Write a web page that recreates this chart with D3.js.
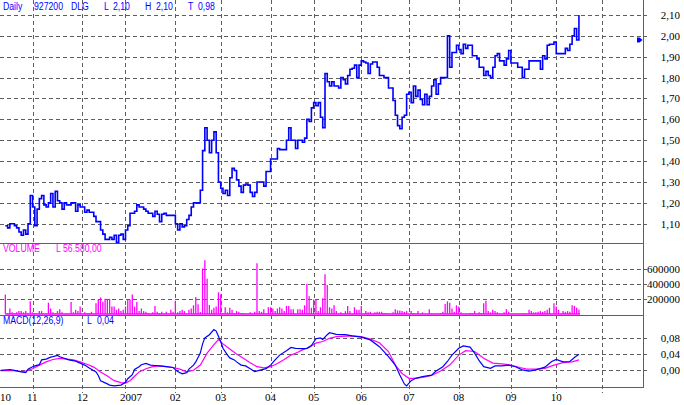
<!DOCTYPE html>
<html><head><meta charset="utf-8">
<script src="https://cdn.jsdelivr.net/npm/d3@7"></script>
<style>body{margin:0;background:#fff}svg{display:block}</style>
</head><body><svg id="c" width="684" height="405"></svg>
<script>
// ---- data ----
const firstDay = 2; // trading-day index of first close
const closes = [
 1.09,1.08,1.10,1.10,1.09,1.08,1.06,1.045,1.07,1.05,
 1.10,1.235,1.18,1.09,1.17,1.22,1.235,1.19,1.18,1.20,
 1.245,1.18,1.255,1.21,1.20,1.17,1.20,1.19,1.19,1.20,
 1.20,1.16,1.19,1.18,1.18,1.155,1.165,1.155,1.155,1.135,
 1.11,1.11,1.07,1.05,1.025,1.025,1.035,1.025,1.045,1.01,
 1.045,1.05,1.025,1.07,1.09,1.15,1.15,1.16,1.19,1.18,
 1.18,1.17,1.16,1.15,1.15,1.135,1.16,1.145,1.11,1.145,
 1.15,1.14,1.14,1.14,1.14,1.10,1.07,1.10,1.085,1.09,
 1.12,1.14,1.18,1.20,1.20,1.20,1.26,1.45,1.56,1.50,
 1.44,1.50,1.54,1.44,1.30,1.27,1.245,1.26,1.235,1.32,
 1.365,1.355,1.31,1.28,1.25,1.285,1.29,1.285,1.25,1.23,
 1.25,1.30,1.30,1.30,1.28,1.35,1.35,1.41,1.41,1.41,
 1.46,1.455,1.455,1.455,1.50,1.56,1.50,1.50,1.46,1.50,
 1.50,1.49,1.51,1.60,1.59,1.655,1.68,1.665,1.68,1.61,
 1.56,1.82,1.78,1.76,1.78,1.76,1.76,1.75,1.80,1.79,
 1.77,1.81,1.84,1.845,1.86,1.80,1.86,1.88,1.875,1.87,
 1.82,1.865,1.875,1.875,1.85,1.81,1.81,1.80,1.80,1.75,
 1.75,1.69,1.62,1.57,1.555,1.61,1.62,1.72,1.73,1.68,
 1.76,1.71,1.74,1.695,1.67,1.72,1.67,1.71,1.76,1.79,
 1.72,1.77,1.80,1.80,1.80,2.00,1.85,1.92,1.92,1.955,
 1.935,1.915,1.96,1.94,1.955,1.955,1.905,1.905,1.89,1.85,
 1.85,1.81,1.83,1.81,1.80,1.85,1.905,1.915,1.88,1.88,
 1.86,1.89,1.93,1.87,1.87,1.87,1.85,1.85,1.80,1.84,
 1.84,1.88,1.88,1.88,1.88,1.88,1.84,1.905,1.89,1.955,
 1.96,1.96,1.97,1.915,1.915,1.915,1.915,1.94,1.93,1.96,
 2.00,2.035,1.98,2.10
];
// volume in thousands of shares
const volumes = [
 261,8,74,22,8,22,39,39,22,39,
 8,170,22,13,5,39,39,5,5,152,
 74,22,5,39,65,22,5,5,5,161,
 22,56,39,100,5,22,13,13,30,5,
 143,196,222,165,204,204,204,100,100,56,
 74,39,56,100,187,196,261,100,161,39,
 74,39,30,13,5,22,109,30,13,30,
 5,30,5,56,30,178,22,39,56,39,
 5,56,74,117,230,130,26,613,722,474,
 122,56,83,100,291,265,13,91,22,83,
 56,13,39,30,13,13,5,5,22,5,
 30,683,39,30,65,5,91,91,74,39,
 74,91,74,39,109,109,65,65,5,65,
 65,56,117,404,239,83,196,196,39,91,
 213,535,391,91,74,117,39,5,22,5,
 39,109,39,5,91,56,56,109,5,39,
 22,30,5,22,30,30,30,13,13,5,
 5,22,65,48,48,39,30,39,5,39,
 13,5,39,5,22,5,5,65,5,5,
 5,5,13,30,135,170,152,74,30,117,
 100,22,5,5,5,13,13,39,5,22,
 13,143,178,39,22,56,39,22,5,5,
 22,65,30,5,5,5,5,5,5,13,
 5,56,39,22,22,30,39,30,39,56,
 83,5,143,100,56,5,39,30,39,30,
 117,109,83,56.58
];
const macdDays = [0,4,6,9,11,12,14,15,17,18,20,22,23,25,26,28,30,33,35,37,39,42,43,44,47,48,50,53,55,56,58,59,61,62,64,66,68,70,73,76,78,80,82,83,85,86,88,89,90,92,94,95,96,97,98,100,101,103,104,106,108,110,112,114,117,119,121,123,126,128,130,133,135,137,139,141,142,144,145,148,152,155,159,163,167,171,174,176,178,179,181,183,186,190,192,195,197,199,202,204,207,209,211,213,216,218,221,224,227,230,233,236,240,243,245,248,251,253,255];
const macdVals = [0.000,0.002,0.000,-0.004,-0.006,0.003,0.009,0.011,0.014,0.026,0.028,0.033,0.034,0.037,0.034,0.030,0.026,0.023,0.018,0.013,0.006,-0.004,-0.013,-0.026,-0.034,-0.037,-0.039,-0.037,-0.030,-0.021,-0.011,0.002,0.009,0.014,0.017,0.013,0.012,0.011,0.009,0.007,-0.003,-0.009,-0.006,0.003,0.013,0.021,0.043,0.066,0.081,0.089,0.102,0.098,0.085,0.072,0.055,0.038,0.031,0.026,0.021,0.013,0.011,0.004,-0.003,0.000,0.004,0.013,0.026,0.038,0.049,0.057,0.055,0.054,0.055,0.062,0.079,0.081,0.077,0.089,0.094,0.090,0.089,0.086,0.083,0.076,0.059,0.034,0.013,-0.012,-0.034,-0.039,-0.026,-0.020,-0.016,-0.012,-0.002,0.009,0.022,0.038,0.055,0.061,0.058,0.043,0.024,0.009,0.005,0.011,0.011,0.013,0.009,0.001,-0.002,0.001,0.008,0.022,0.027,0.021,0.022,0.032,0.040];
const signalDays = [0,6,9,11,14,17,20,23,26,29,32,35,38,41,44,47,50,53,55,57,59,61,64,67,70,73,76,79,82,85,88,91,94,96,98,101,104,107,110,113,116,119,122,125,128,131,133,136,139,142,145,148,154,159,163,167,171,174,177,180,182,186,190,194,198,202,205,209,213,217,221,225,229,232,236,240,244,248,252,255];
const signalVals = [-0.001,-0.001,-0.003,-0.002,0.004,0.013,0.021,0.027,0.030,0.028,0.026,0.021,0.015,0.008,-0.004,-0.014,-0.026,-0.031,-0.032,-0.026,-0.015,-0.004,0.004,0.009,0.011,0.009,0.007,0.003,-0.004,0.000,0.013,0.043,0.064,0.077,0.066,0.053,0.041,0.030,0.019,0.009,0.006,0.009,0.017,0.027,0.038,0.045,0.051,0.057,0.068,0.072,0.080,0.084,0.086,0.084,0.078,0.069,0.047,0.013,-0.008,-0.020,-0.020,-0.018,-0.013,-0.002,0.013,0.038,0.049,0.047,0.030,0.018,0.016,0.013,0.007,0.003,0.003,0.005,0.013,0.019,0.021,0.026];
const monthStarts = [14,36,55,77,97,119,138,159,180,202,225,245,265];
const labelDays = [2,14,36,55,77,97,119,138,159,180,202,225,245];
const labelTexts = ["10","11","12","2007","02","03","04","05","06","07","08","09","10"];
const priceTicks = [1.10,1.20,1.30,1.40,1.50,1.60,1.70,1.80,1.90,2.00,2.10];
const volumeTicks = [200000,400000,600000];
const macdTicks = [0,0.04,0.08];
const markerPrice = 1.98;
const headerTexts = ["Daily","927200","DLG","L","2,10","H","2,10","T","0,98"];
const volumeHeader = ["VOLUME","L","56.580,00"];
const macdHeader = ["MACD(12,26,9)","L","0,04"];

// ---- drawing ----
const svg = d3.select("#c");
const W = 643, GRID = "#5f5f5f", BLUE = "#0000ff", MAG = "#ff00ff";
const x = d3.scaleLinear().domain([0, 283]).range([0.8, 642.4]);
const yP = d3.scaleLinear().domain([1.10, 2.10]).range([223.7, 15]);
const yV = d3.scaleLinear().domain([0, 600000]).range([314, 269.4]);
const yM = d3.scaleLinear().domain([0, 0.08]).range([370.3, 338.3]);
const px = v => Math.round(v) + 0.5;

const grid = svg.append("g").attr("stroke", GRID).attr("stroke-width", 1)
  .attr("stroke-dasharray", "4,3").attr("shape-rendering", "crispEdges");
function hgrid(vals, sc) {
  grid.selectAll(null).data(vals).enter().append("line")
    .attr("x1", 0).attr("x2", 647).attr("y1", d => px(sc(d))).attr("y2", d => px(sc(d)));
}
hgrid(priceTicks, yP); hgrid(volumeTicks, yV); hgrid(macdTicks, yM);
grid.selectAll(null).data(monthStarts).enter().append("line")
  .attr("x1", d => px(x(d))).attr("x2", d => px(x(d))).attr("y1", 0).attr("y2", 393);

// borders
const bord = svg.append("g").attr("stroke", "#606060").attr("stroke-width", 1).attr("shape-rendering", "crispEdges");
[243, 315, 387].forEach(y => bord.append("line").attr("x1", 0).attr("x2", W + 0.5).attr("y1", y + 0.5).attr("y2", y + 0.5));
bord.append("line").attr("x1", W + 0.5).attr("x2", W + 0.5).attr("y1", 0).attr("y2", 387.5);

// axis labels
const serif = "'Liberation Serif','Times New Roman',serif";
const lab = svg.append("g").attr("font-family", serif).attr("font-size", 11).attr("fill", "#000");
function rlabels(vals, sc, fmt) {
  lab.selectAll(null).data(vals).enter().append("text")
    .attr("x", 680).attr("y", d => sc(d) + 4).attr("text-anchor", "end").text(fmt);
}
const comma = d3.format(".2f");
rlabels(priceTicks, yP, d => comma(d).replace(".", ","));
rlabels(volumeTicks, yV, d => String(d));
rlabels(macdTicks, yM, d => comma(d).replace(".", ","));
lab.selectAll(null).data(labelDays).enter().append("text")
  .attr("x", (d, k) => k === 0 ? 0 : x(d) - 5.5).attr("y", 401)
  .text((d, k) => labelTexts[k]);

// price step line
const priceData = closes.map((c, k) => [firstDay + k, c]);
svg.append("path").datum(priceData)
  .attr("fill", "none").attr("stroke", BLUE).attr("stroke-width", 1.6)
  .attr("d", d3.line().x(d => x(d[0])).y(d => yP(d[1])).curve(d3.curveStepAfter));

// marker
const my = yP(markerPrice);
svg.append("path").attr("fill", BLUE)
  .attr("d", `M637,${my - 2.5}h2.5l3,2.5l-3,2.5h-2.5z`);

// volume
svg.append("line").attr("x1", x(firstDay)).attr("x2", x(firstDay + volumes.length - 1) + 1)
  .attr("y1", yV(0)).attr("y2", yV(0)).attr("stroke", MAG).attr("stroke-width", 1.6);
svg.append("g").selectAll("line").data(volumes).enter().append("line")
  .attr("x1", (d, k) => x(firstDay + k)).attr("x2", (d, k) => x(firstDay + k))
  .attr("y1", yV(0)).attr("y2", d => yV(d * 1000))
  .attr("stroke", MAG).attr("stroke-width", 1.3);

// MACD
const lineM = d3.line().x(d => x(d[0])).y(d => yM(d[1]));
svg.append("path").datum(signalDays.map((d, k) => [d, signalVals[k]]))
  .attr("fill", "none").attr("stroke", MAG).attr("stroke-width", 1.2).attr("d", lineM);
svg.append("path").datum(macdDays.map((d, k) => [d, macdVals[k]]))
  .attr("fill", "none").attr("stroke", BLUE).attr("stroke-width", 1.2).attr("d", lineM);

// headers (narrowed sans to mimic the bitmap UI font)
const sans = "'Liberation Sans',Arial,sans-serif";
function header(texts, xs, y, color) {
  svg.append("g").attr("font-family", sans).attr("font-size", 10).attr("fill", color)
    .selectAll("text").data(texts).enter().append("text")
    .attr("transform", (d, k) => `translate(${xs[k]},${y}) scale(0.87,1)`).text(d => d);
}
header(headerTexts, [3, 34, 71, 104, 113, 145, 156, 188, 198], 9.5, BLUE);
header(volumeHeader, [3, 56, 63], 252, MAG);
header(macdHeader, [3, 87, 97], 324, BLUE);
</script></body></html>
